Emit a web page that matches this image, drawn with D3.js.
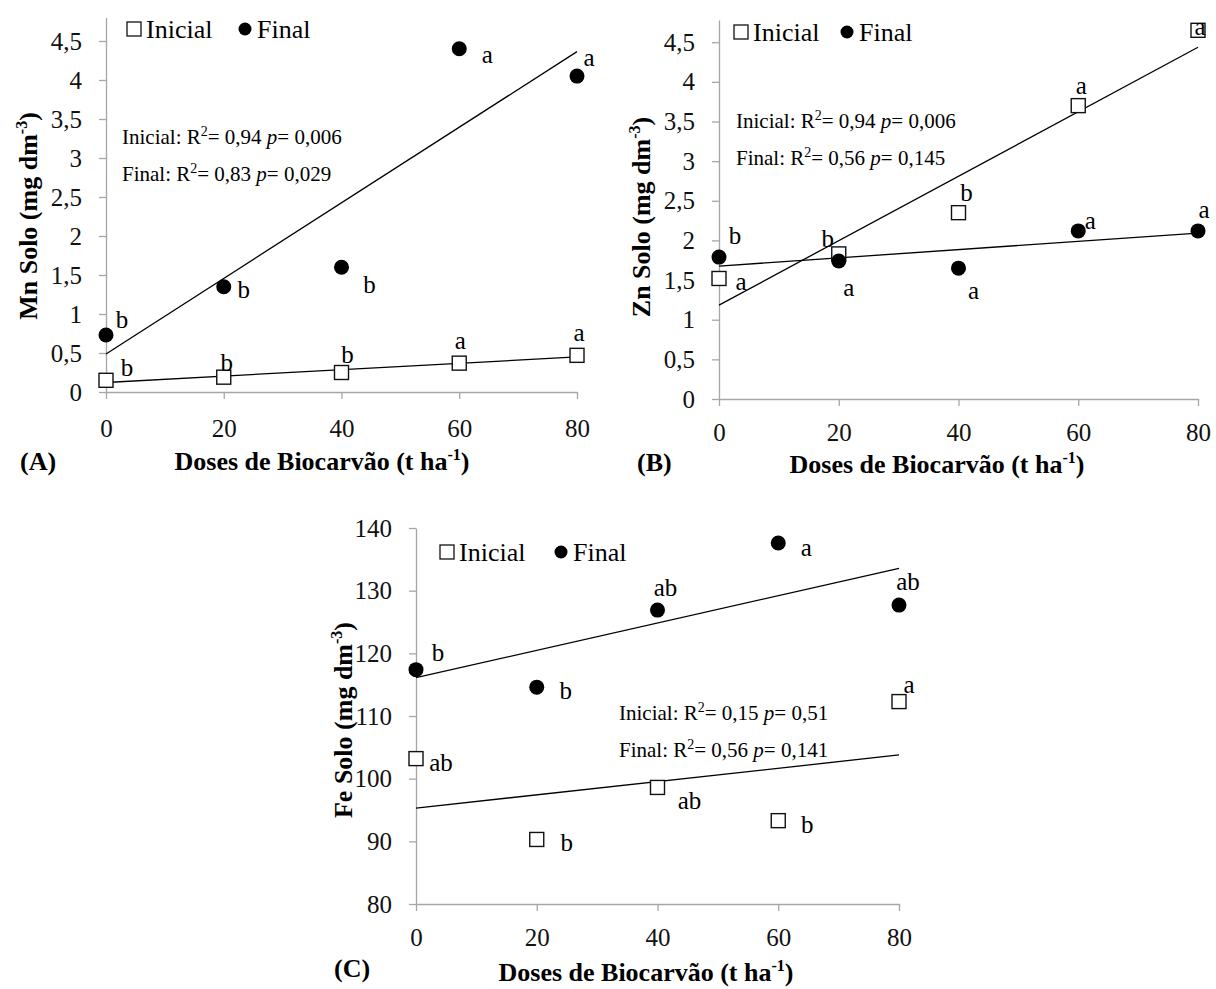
<!DOCTYPE html>
<html>
<head>
<meta charset="utf-8">
<script src="https://cdn.jsdelivr.net/npm/d3@7"></script>
<style>
  body { margin: 0; background: #fff; }
  svg { display: block; font-family: "Liberation Serif", "Times New Roman", serif; }
  svg text { font-family: "Liberation Serif", "Times New Roman", serif; }
</style>
</head>
<body>
<svg id="chart" width="1216" height="989"></svg>
<script>
// doses de biocarvão (t ha-1)
const doses = [0, 20, 40, 60, 80]
const xTicks = [0, 20, 40, 60, 80]

// (A) Mn
const mnInicial = [0.15, 0.19, 0.25, 0.37, 0.47]
const mnFinal = [0.73, 1.35, 1.6, 4.4, 4.05]
const mnInicialLetters = ["b", "b", "b", "a", "a"]
const mnFinalLetters = ["b", "b", "b", "a", "a"]
const mnTicks = [0, 0.5, 1, 1.5, 2, 2.5, 3, 3.5, 4, 4.5]
const mnStats = [["Inicial", "0,94", "0,006"], ["Final", "0,83", "0,029"]]

// (B) Zn
const znInicial = [1.52, 1.83, 2.35, 3.7, 4.65]
const znFinal = [1.79, 1.74, 1.65, 2.12, 2.12]
const znInicialLetters = ["a", "b", "b", "a", "a"]
const znFinalLetters = ["b", "a", "a", "a", "a"]
const znTicks = [0, 0.5, 1, 1.5, 2, 2.5, 3, 3.5, 4, 4.5]
const znStats = [["Inicial", "0,94", "0,006"], ["Final", "0,56", "0,145"]]

// (C) Fe
const feInicial = [103.2, 90.3, 98.6, 93.3, 112.3]
const feFinal = [117.4, 114.6, 126.9, 137.6, 127.7]
const feInicialLetters = ["ab", "b", "ab", "b", "a"]
const feFinalLetters = ["b", "b", "ab", "a", "ab"]
const feTicks = [80, 90, 100, 110, 120, 130, 140]
const feStats = [["Inicial", "0,15", "0,51"], ["Final", "0,56", "0,141"]]

const ptBR = d3.formatLocale({decimal: ",", thousands: ".", grouping: [3], currency: ["", ""]})
const fmt = ptBR.format("~g")

const svg = d3.select("#chart")
const axisColor = "#a6a6a6"
const serif = "'Liberation Serif', 'Times New Roman', serif"

function linFit(xs, ys) {
    let mx = d3.mean(xs), my = d3.mean(ys)
    let sxy = 0, sxx = 0
    xs.forEach((v, i) => { sxy += (v - mx) * (ys[i] - my); sxx += (v - mx) * (v - mx) })
    let b = sxy / sxx
    return {a: my - b * mx, b: b}
}

function drawPanel(p) {
    let x = d3.scaleLinear().domain([0, 80]).range([p.x0, p.x1])
    let y = d3.scaleLinear().domain(p.yDomain).range([p.yBottom, p.yTop])
    let g = svg.append("g")

    let yAxis = g.append("g")
        .attr("transform", `translate(${p.x0},0)`)
        .call(d3.axisLeft(y).tickValues(p.yTicks).tickSize(7).tickSizeOuter(0).tickPadding(17).tickFormat(fmt))
    let xAxis = g.append("g")
        .attr("transform", `translate(0,${p.yBottom})`)
        .call(d3.axisBottom(x).tickValues(xTicks).tickSize(7).tickSizeOuter(0).tickPadding(p.xPad).tickFormat(fmt))
    for (let a of [yAxis, xAxis]) {
        a.attr("font-family", null).style("font-family", serif).attr("font-size", 25)
        a.select(".domain").attr("stroke", axisColor).attr("stroke-width", 1.3)
        a.selectAll(".tick line").attr("stroke", axisColor).attr("stroke-width", 1.3)
        a.selectAll(".tick text").attr("fill", "#111")
    }

    // trend lines
    for (let vals of [p.inicial, p.final]) {
        let f = linFit(doses, vals)
        g.append("line")
            .attr("x1", x(0)).attr("y1", y(f.a))
            .attr("x2", x(80)).attr("y2", y(f.a + f.b * 80))
            .attr("stroke", "#000").attr("stroke-width", 1.3)
    }

    // Inicial (open squares)
    g.selectAll(".sq").data(p.inicial).join("rect")
        .attr("x", (d, i) => x(doses[i]) - 7)
        .attr("y", d => y(d) - 7)
        .attr("width", 14).attr("height", 14)
        .attr("fill", "#fff").attr("stroke", "#111").attr("stroke-width", 1.4)

    // Final (filled circles)
    g.selectAll(".ci").data(p.final).join("circle")
        .attr("cx", (d, i) => x(doses[i]))
        .attr("cy", d => y(d))
        .attr("r", 7.5)
        .attr("fill", "#000")

    // significance letters
    let letters = (vals, labs, offs) => {
        g.append("g").selectAll("text").data(vals).join("text")
            .attr("x", (d, i) => x(doses[i]) + offs[i][0])
            .attr("y", (d, i) => y(d) + offs[i][1])
            .attr("text-anchor", "middle")
            .attr("dominant-baseline", "central")
            .attr("font-size", 25)
            .text((d, i) => labs[i])
    }
    letters(p.inicial, p.inicialLetters, p.inicialOffs)
    letters(p.final, p.finalLetters, p.finalOffs)

    // legend
    let lg = g.append("g").attr("transform", `translate(${p.legend[0]},${p.legend[1]})`)
    lg.append("rect").attr("x", -7).attr("y", -7).attr("width", 14).attr("height", 14)
        .attr("fill", "#fff").attr("stroke", "#111").attr("stroke-width", 1.3)
    lg.append("text").attr("x", 12).attr("y", 9).attr("font-size", 26).text("Inicial")
    lg.append("circle").attr("cx", p.legend[2]).attr("cy", 0).attr("r", 6.5).attr("fill", "#000")
    lg.append("text").attr("x", p.legend[2] + 12).attr("y", 9).attr("font-size", 26).text("Final")

    // R2 / p annotations
    p.stats.forEach((s, i) => {
        let t = g.append("text").attr("x", p.statsPos[0]).attr("y", p.statsPos[1] + i * 37)
            .attr("font-size", 21)
        t.append("tspan").text(`${s[0]}: R`)
        t.append("tspan").attr("font-size", 14).attr("dy", -8).text("2")
        t.append("tspan").attr("dy", 8).text(`= ${s[1]} `)
        t.append("tspan").attr("font-style", "italic").text("p")
        t.append("tspan").text(`= ${s[2]}`)
    })

    // axis titles
    let yt = g.append("text")
        .attr("transform", `translate(${p.yTitle[0]},${p.yTitle[1]}) rotate(-90)`)
        .attr("text-anchor", "middle").attr("font-size", 26).attr("font-weight", "bold")
    yt.append("tspan").text(`${p.element} Solo (mg dm`)
    yt.append("tspan").attr("font-size", 16).attr("dy", -10).text("-3")
    yt.append("tspan").attr("dy", 10).text(")")

    let xt = g.append("text")
        .attr("x", p.xTitle[0]).attr("y", p.xTitle[1])
        .attr("text-anchor", "middle").attr("font-size", 26).attr("font-weight", "bold")
    xt.append("tspan").text("Doses de Biocarvão (t ha")
    xt.append("tspan").attr("font-size", 16).attr("dy", -10).text("-1")
    xt.append("tspan").attr("dy", 10).text(")")

    g.append("text").attr("x", p.tag[0]).attr("y", p.tag[1])
        .attr("font-size", 26).attr("font-weight", "bold").text(p.tagText)
}

drawPanel({
    element: "Mn", tagText: "(A)",
    x0: 106, x1: 577, yBottom: 392, yTop: 17.6, yDomain: [0, 4.8], yTicks: mnTicks, xPad: 20,
    inicial: mnInicial, final: mnFinal,
    inicialLetters: mnInicialLetters, finalLetters: mnFinalLetters,
    inicialOffs: [[21, -13], [3, -15], [6, -18], [1, -23], [2, -23]],
    finalOffs: [[16, -16], [20, 3], [28, 17], [28, 6], [12, -19]],
    legend: [134, 29, 111], stats: mnStats, statsPos: [122, 144],
    yTitle: [37, 216], xTitle: [322, 470], tag: [20, 470]
})

drawPanel({
    element: "Zn", tagText: "(B)",
    x0: 719, x1: 1198, yBottom: 399, yTop: 20, yDomain: [0, 4.78], yTicks: znTicks, xPad: 17,
    inicial: znInicial, final: znFinal,
    inicialLetters: znInicialLetters, finalLetters: znFinalLetters,
    inicialOffs: [[22, 3], [-11, -15], [8, -20], [3, -20], [2, -4]],
    finalOffs: [[16, -22], [10, 26], [15, 22], [12, -10], [6, -21]],
    legend: [741, 32, 106], stats: znStats, statsPos: [736, 128],
    yTitle: [650, 217], xTitle: [937, 473], tag: [637, 471]
})

drawPanel({
    element: "Fe", tagText: "(C)",
    x0: 416, x1: 899, yBottom: 904, yTop: 528, yDomain: [80, 140], yTicks: feTicks, xPad: 17,
    inicial: feInicial, final: feFinal,
    inicialLetters: feInicialLetters, finalLetters: feFinalLetters,
    inicialOffs: [[25, 4], [30, 3], [32, 13], [29, 4], [10, -17]],
    finalOffs: [[22, -17], [29, 3], [8, -23], [28, 4], [9, -24]],
    legend: [447, 552, 114], stats: feStats, statsPos: [619, 720],
    yTitle: [352, 720], xTitle: [646, 981], tag: [334, 977]
})
</script>
</body>
</html>
